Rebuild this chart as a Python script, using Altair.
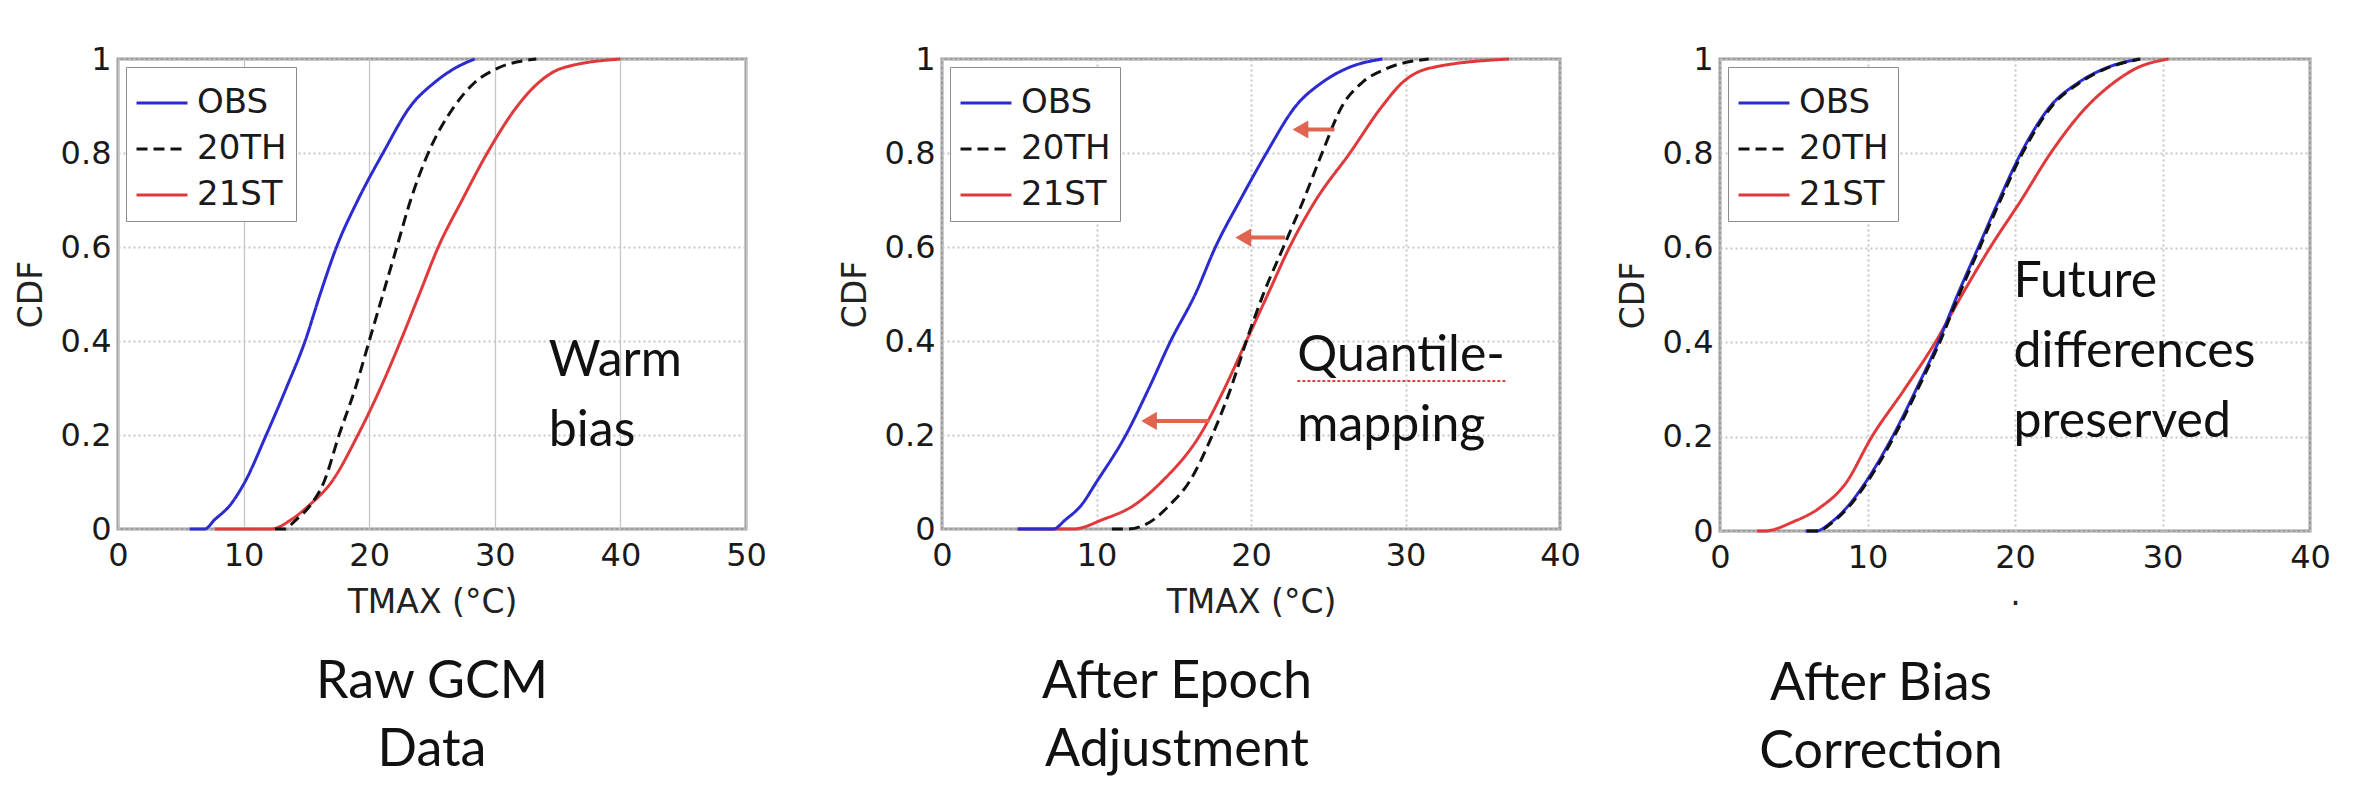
import altair as alt
import pandas as pd

# ---------------- data ----------------
SERIES = ["OBS", "20TH", "21ST"]
COLORS = ["#2b2bd0", "#111111", "#e0393b"]
DASHES = [[1, 0], [11, 6], [1, 0]]

CDF_LEVELS = [0, 0, 0.02, 0.05, 0.1, 0.2, 0.3, 0.4, 0.5, 0.6, 0.7, 0.8, 0.9, 0.95, 0.98, 1.0]

# Panel 1: Raw GCM data
P1_OBS = [5.7, 6.9, 7.7, 8.9, 10.1, 11.8, 13.4, 14.9, 16.1, 17.4, 19.1, 21.1, 23.3, 25.2, 26.8, 28.4]
P1_20TH = [12.5, 13.2, 14.2, 15.3, 16.4, 17.6, 18.9, 20.0, 21.1, 22.2, 23.3, 24.7, 26.8, 28.4, 30.2, 33.3]
P1_21ST = [7.7, 12.2, 13.8, 15.2, 17.0, 19.1, 20.9, 22.5, 24.0, 25.5, 27.4, 29.4, 31.8, 33.5, 35.3, 40.0]

# Panel 2: after epoch adjustment
P2_OBS = [4.9, 7.2, 8.0, 9.0, 10.0, 11.9, 13.4, 14.8, 16.4, 17.7, 19.3, 21.0, 22.9, 24.6, 26.2, 28.5]
P2_20TH = [11.0, 12.0, 13.7, 14.7, 16.0, 17.5, 18.7, 19.7, 20.8, 22.1, 23.4, 24.6, 25.9, 27.2, 28.8, 31.5]
P2_21ST = [4.9, 8.5, 10.4, 12.4, 14.2, 16.7, 18.3, 19.7, 21.1, 22.5, 24.2, 26.4, 28.5, 29.8, 31.5, 36.7]

# Panel 3: after bias correction
P3_OBS = [5.8, 6.5, 7.6, 8.6, 9.8, 11.7, 13.3, 14.8, 16.1, 17.5, 18.9, 20.4, 22.4, 24.3, 26.1, 28.4]
P3_20TH = [5.9, 6.6, 7.7, 8.7, 9.9, 11.8, 13.4, 14.9, 16.2, 17.6, 19.0, 20.5, 22.5, 24.4, 26.2, 28.5]
P3_21ST = [2.5, 3.0, 5.0, 6.8, 8.5, 10.3, 12.5, 14.6, 16.4, 18.3, 20.4, 22.4, 24.9, 26.7, 28.2, 30.4]

X_DOMAINS = [[0, 50], [0, 40], [0, 40]]
X_TICKS = [[0, 10, 20, 30, 40, 50], [0, 10, 20, 30, 40], [0, 10, 20, 30, 40]]
Y_TICKS = [0, 0.2, 0.4, 0.6, 0.8, 1.0]
X_TITLES = ["TMAX (°C)", "TMAX (°C)", "·"]
Y_TITLE = "CDF"

PANEL_TITLES = [["Raw GCM", "Data"], ["After Epoch", "Adjustment"], ["After Bias", "Correction"]]
TITLE_DX = [0, -74, -134]

ANNOT_TEXT = [["Warm", "bias"], ["Quantile-", "mapping"], ["Future", "differences", "preserved"]]
ANNOT_X = [34.3, 23.0, 19.9]
ANNOT_Y = [0.326, 0.336, 0.495]

# quantile-mapping arrows (panel 2)
ARROW_Y = [0.85, 0.62, 0.23]
ARROW_X_FROM = [25.4, 22.2, 17.3]
ARROW_X_TO = [23.2, 19.5, 13.4]

# spell-check underline under "Quantile-"
UNDERLINE_X = [23.0]
UNDERLINE_X2 = [36.6]
UNDERLINE_Y = [0.315]

PANEL_W = [628, 618, 590]
PANEL_H = [470, 470, 472]

LABEL_FONT = "DejaVu Sans"
TEXT_FONT = "Lato"


def curve_frame(obs, t20, t21):
    rows = []
    for name, xs in (("21ST", t21), ("OBS", obs), ("20TH", t20)):
        for x, c in zip(xs, CDF_LEVELS):
            rows.append({"series": name, "tmax": x, "cdf": c})
    return pd.DataFrame(rows)


CURVES = [
    curve_frame(P1_OBS, P1_20TH, P1_21ST),
    curve_frame(P2_OBS, P2_20TH, P2_21ST),
    curve_frame(P3_OBS, P3_20TH, P3_21ST),
]

legend = alt.Legend(
    title=None, orient="top-left", offset=8, padding=9,
    strokeColor="#8c8c8c", fillColor="white", cornerRadius=0,
    symbolType="stroke", symbolSize=2600, symbolStrokeWidth=3,
    labelFont=LABEL_FONT, labelFontSize=34, labelColor="#1a1a1a",
    labelOffset=8, rowPadding=2,
)


def panel(i):
    xs = alt.Scale(domain=X_DOMAINS[i], nice=False, zero=False)
    ys = alt.Scale(domain=[0, 1], nice=False)
    x_axis = alt.Axis(values=X_TICKS[i], title=X_TITLES[i], labelFlush=False,
                      labelPadding=11, titlePadding=15,
                      gridDash=[2, 3] if i > 0 else [1, 0],
                      gridWidth=2 if i > 0 else 1.3)
    y_axis = alt.Axis(values=Y_TICKS, format="~g", title=Y_TITLE,
                      labelPadding=7, titlePadding=12)

    base = alt.Chart(CURVES[i])
    lines = base.mark_line(strokeWidth=3, interpolate="monotone").encode(
        x=alt.X("tmax:Q", scale=xs, axis=x_axis),
        y=alt.Y("cdf:Q", scale=ys, axis=y_axis),
        color=alt.Color("series:N", scale=alt.Scale(domain=SERIES, range=COLORS), legend=legend),
        strokeDash=alt.StrokeDash("series:N", scale=alt.Scale(domain=SERIES, range=DASHES), legend=legend),
        detail="series:N",
    )

    annot = alt.Chart(pd.DataFrame({"x": [ANNOT_X[i]], "y": [ANNOT_Y[i]]})).mark_text(
        text=ANNOT_TEXT[i], align="left", baseline="alphabetic",
        font=TEXT_FONT, fontSize=50, lineHeight=70, color="#111111",
    ).encode(x=alt.X("x:Q", scale=xs), y=alt.Y("y:Q", scale=ys))

    layers = [lines, annot]

    if i == 1:
        arrows = pd.DataFrame({"y": ARROW_Y, "x1": ARROW_X_FROM, "x2": ARROW_X_TO})
        shaft = alt.Chart(arrows).mark_rule(color="#e0644f", strokeWidth=4).encode(
            x=alt.X("x1:Q", scale=xs), x2="x2:Q", y=alt.Y("y:Q", scale=ys))
        head = alt.Chart(arrows).mark_point(shape="triangle-left", filled=True, size=330,
                                            color="#e0644f", opacity=1).encode(
            x=alt.X("x2:Q", scale=xs), y=alt.Y("y:Q", scale=ys))
        under = alt.Chart(pd.DataFrame({"x": UNDERLINE_X, "x2": UNDERLINE_X2, "y": UNDERLINE_Y})).mark_rule(
            color="#e04040", strokeWidth=2, strokeDash=[3, 2]).encode(
            x=alt.X("x:Q", scale=xs), x2="x2:Q", y=alt.Y("y:Q", scale=ys))
        layers += [shaft, head, under]

    return alt.layer(*layers).properties(
        width=PANEL_W[i], height=PANEL_H[i],
        title=alt.TitleParams(text=PANEL_TITLES[i], orient="bottom", anchor="middle", frame="group",
                              font=TEXT_FONT, fontSize=52, fontWeight="normal", color="#111111",
                              lineHeight=68, offset=38, baseline="top", dx=TITLE_DX[i]),
    )


p1, p2, p3 = panel(0), panel(1), panel(2)

inner = alt.hconcat(p1, p2, spacing=69).resolve_scale(color="independent", strokeDash="independent")
chart = alt.hconcat(inner, p3, spacing=33).resolve_scale(color="independent", strokeDash="independent")

chart = chart.properties(
    padding={"left": 5, "top": 33, "right": 5, "bottom": 5},
    background="white",
).configure_view(
    stroke="#9c9c9c", strokeWidth=3,
).configure_axis(
    labelFont=LABEL_FONT, labelFontSize=32, labelColor="#1a1a1a",
    titleFont=LABEL_FONT, titleFontSize=33, titleColor="#222222", titleFontWeight="normal",
    ticks=False, domain=False, grid=True, gridColor="#c6c6c6", labelOverlap=False,
).configure_axisY(
    gridDash=[2, 3], gridWidth=2,
)

chart.save("out.html", embed_options={"renderer": "svg", "actions": False})
